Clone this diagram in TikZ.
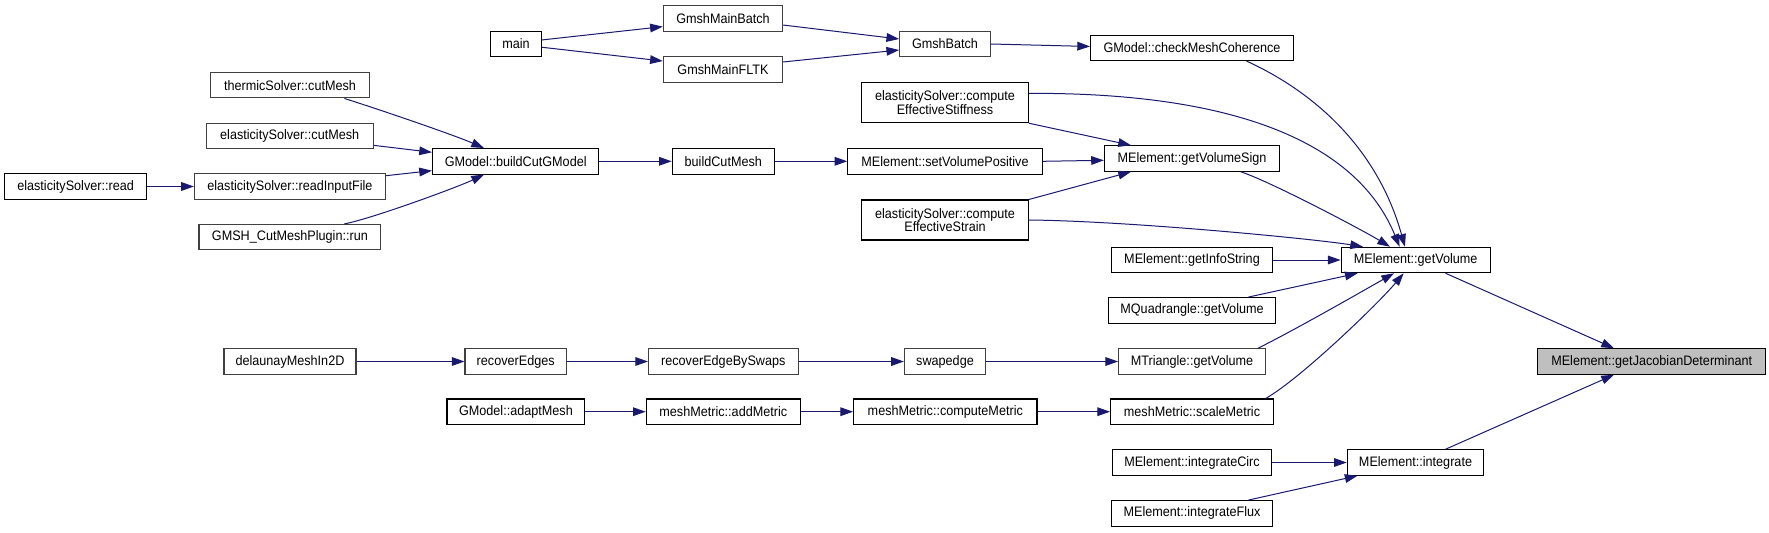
\documentclass[tikz,border=0pt]{standalone}
\usepackage{fontspec}
\setmainfont{Liberation Sans}[FakeStretch=0.92]
\usepackage{xcolor}
\definecolor{callBlue}{HTML}{191970}
\definecolor{rootGray}{HTML}{BFBFBF}
\definecolor{plainGray}{HTML}{404040}
\usetikzlibrary{arrows.meta}

\begin{document}
\begin{tikzpicture}[x=0.75pt, y=-0.75pt,
  fn/.style={draw=black, line width=0.8pt, fill=white, inner sep=0pt,
    minimum height=19.1pt, minimum width=#1*0.75pt, align=center,
    font=\fontsize{10.3}{10.3}\selectfont},
  fntwo/.style={fn=#1, minimum height=30pt},
  undoc/.style={draw=plainGray},
  call/.style={callBlue, line width=0.75pt, -{Triangle[length=9.5pt,width=6.5pt]}}]
  \fill[white] (0,0) rectangle (1769,532);
  \useasboundingbox (0,0) rectangle (1769,532);
  % ------- top: batch entry points -------
  \node[fn=51] (main) at (516,43.8) {main};
  \node[fn=119.4, undoc] (mainBatch) at (723,18.5) {GmshMainBatch};
  \node[fn=119.4, undoc] (mainFLTK) at (723,69.3) {GmshMainFLTK};
  \node[fn=90.7, undoc] (gmshBatch) at (945,44) {GmshBatch};
  \node[fn=203] (checkMesh) at (1192,47.8) {GModel::checkMeshCoherence};
  % ------- cut mesh branch -------
  \node[fn=158.8, undoc] (thermCut) at (290,85.2) {thermicSolver::cutMesh};
  \node[fn=166.8, undoc] (elasCut) at (289.7,136) {elasticitySolver::cutMesh};
  \node[fn=142] (elasRead) at (75.6,186.5) {elasticitySolver::read};
  \node[fn=191, undoc] (elasInput) at (289.9,186.5) {elasticitySolver::readInputFile};
  \node[fn=181.8, undoc] (cutPlugin) at (289.9,237.2) {GMSH\_CutMeshPlugin::run};
  \node[fn=166.5] (cutGModel) at (515.7,161.3) {GModel::buildCutGModel};
  \node[fn=102.2] (cutMesh) at (723.3,161.3) {buildCutMesh};
  \node[fntwo=166.8] (stiff) at (945,102.7) {elasticitySolver::compute\\EffectiveStiffness};
  \node[fn=194.4] (volPos) at (945,161.3) {MElement::setVolumePositive};
  \node[fntwo=166.8] (strain) at (945,220) {elasticitySolver::compute\\EffectiveStrain};
  % ------- direct callers of getVolume -------
  \node[fn=175.2] (volSign) at (1192,158.5) {MElement::getVolumeSign};
  \node[fn=160.6] (infoStr) at (1192,260) {MElement::getInfoString};
  \node[fn=166.7] (quadVol) at (1192,310.3) {MQuadrangle::getVolume};
  \node[fn=146.8, undoc] (triVol) at (1192,361.5) {MTriangle::getVolume};
  \node[fn=162.9] (scaleMet) at (1192,411.7) {meshMetric::scaleMetric};
  \node[fn=159.1] (intCirc) at (1192,462.5) {MElement::integrateCirc};
  \node[fn=160.3] (intFlux) at (1192,513.3) {MElement::integrateFlux};
  \node[fn=149] (getVol) at (1415.6,260) {MElement::getVolume};
  \node[fn=136.6] (integ) at (1415.5,462.5) {MElement::integrate};
  \node[fn=227.7, fill=rootGray] (jacDet) at (1651.7,361.5) {MElement::getJacobianDeterminant};
  % ------- bottom rows: edge recovery and metric -------
  \node[fn=132, undoc] (delaunay) at (290,361.5) {delaunayMeshIn2D};
  \node[fn=101.4, undoc] (recEdges) at (515.7,361.5) {recoverEdges};
  \node[fn=149.6, undoc] (recSwaps) at (723.3,361.5) {recoverEdgeBySwaps};
  \node[fn=81.2, undoc] (swapEdge) at (945,361.5) {swapedge};
  \node[fn=137.8] (adaptMesh) at (515.9,411.7) {GModel::adaptMesh};
  \node[fn=154.2] (addMet) at (723.3,411.7) {meshMetric::addMetric};
  \node[fn=183.4] (compMet) at (945.3,411.7) {meshMetric::computeMetric};
  % calls
  \draw[call] ([yshift=2.9pt]main.east) -- ([yshift=-6.1pt]mainBatch.west);
  \draw[call] ([yshift=-2.6pt]main.east) -- ([yshift=6.2pt]mainFLTK.west);
  \draw[call] ([yshift=-4.9pt]mainBatch.east) -- ([yshift=3.75pt]gmshBatch.west);
  \draw[call] ([yshift=5.5pt]mainFLTK.east) -- ([yshift=-4.5pt]gmshBatch.west);
  \draw[call] (gmshBatch.east) -- ([yshift=1pt]checkMesh.west);
  \draw[call] ([xshift=40.9pt]checkMesh.south) .. controls +(70,32) and +(-27,-96.7) .. ([xshift=-8pt]getVol.north);
  \draw[call] ([xshift=40.8pt]thermCut.south) .. controls +(35,11) and +(-30,-13) .. ([xshift=-23.8pt]cutGModel.north);
  \draw[call] ([yshift=-7pt]elasCut.east) -- ([yshift=6.75pt]cutGModel.west);
  \draw[call] ([yshift=8.1pt]elasInput.east) -- ([yshift=-7pt]cutGModel.west);
  \draw[call] ([xshift=40.8pt]cutPlugin.north) .. controls +(30,-6) and +(-25,12) .. ([xshift=-23.8pt]cutGModel.south);
  \draw[call] (elasRead.east) -- (elasInput.west);
  \draw[call] (cutGModel.east) -- (cutMesh.west);
  \draw[call] (cutMesh.east) -- (volPos.west);
  \draw[call] (volPos.east) -- ([yshift=-1.35pt]volSign.west);
  \draw[call] (stiff.south east) -- ([xshift=-45.8pt]volSign.north);
  \draw[call] ([yshift=7pt]stiff.east) .. controls +(221.5,-1) and +(-39.6,-96.7) .. ([xshift=-12pt]getVol.north);
  \draw[call] (strain.north east) -- ([xshift=-45.8pt]volSign.south);
  \draw[call] (strain.east) .. controls +(100,1) and +(-50,-8) .. ([xshift=-39.5pt]getVol.north);
  \draw[call] ([xshift=36.6pt]volSign.south) .. controls +(30,10) and +(-30,-18) .. ([xshift=-19.2pt]getVol.north);
  \draw[call] (infoStr.east) -- (getVol.west);
  \draw[call] ([xshift=42.4pt]quadVol.north) -- ([xshift=-43.5pt]getVol.south);
  \draw[call] ([xshift=49.5pt]triVol.north) .. controls +(40,-20) and +(-30,17) .. ([xshift=-16.2pt]getVol.south);
  \draw[call] ([xshift=55.3pt]scaleMet.north) .. controls +(35,-20) and +(-25,30) .. ([xshift=-9pt]getVol.south);
  \draw[call] ([xshift=22.5pt]getVol.south) -- ([xshift=-28.3pt]jacDet.north);
  \draw[call] ([xshift=22.5pt]integ.north) -- ([xshift=-28.3pt]jacDet.south);
  \draw[call] (intCirc.east) -- (integ.west);
  \draw[call] ([xshift=42.4pt]intFlux.north) -- ([xshift=-43.5pt]integ.south);
  \draw[call] (delaunay.east) -- (recEdges.west);
  \draw[call] (recEdges.east) -- (recSwaps.west);
  \draw[call] (recSwaps.east) -- (swapEdge.west);
  \draw[call] (swapEdge.east) -- (triVol.west);
  \draw[call] (adaptMesh.east) -- (addMet.west);
  \draw[call] (addMet.east) -- (compMet.west);
  \draw[call] (compMet.east) -- (scaleMet.west);
\end{tikzpicture}
\end{document}
